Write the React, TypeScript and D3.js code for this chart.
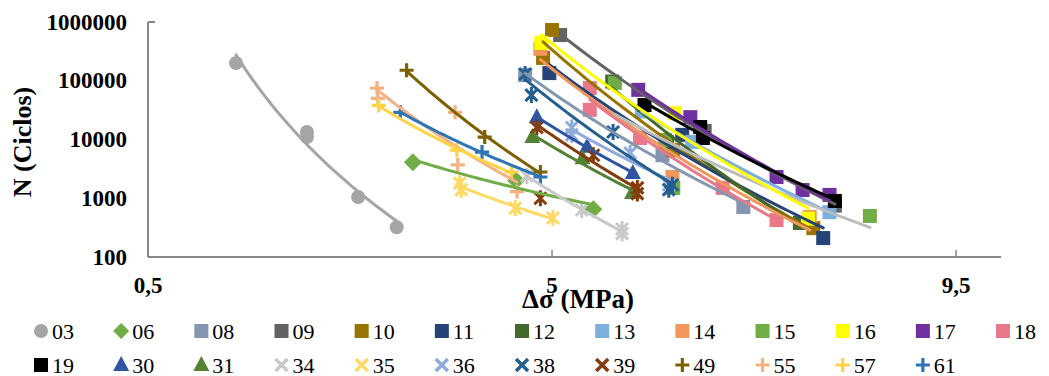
import React from 'react';
import * as d3 from 'd3';

type Pt = [number, number]; // [Δσ (MPa), N (cycles)]

// Specimen series: [stress range, cycles to failure]
const s03: Pt[] = [[1.48, 200000], [2.27, 13400], [2.27, 11000], [2.84, 1050], [3.27, 320]];
const s06: Pt[] = [[3.45, 4100], [4.6, 2000], [5.46, 650]];
const s08: Pt[] = [[4.7, 125000], [6.23, 5400], [7.13, 710]];
const s09: Pt[] = [[5.09, 600000], [6.7, 14000], [8.15, 750]];
const s10: Pt[] = [[5.0, 730000], [4.9, 245000], [6.35, 6600], [7.91, 310]];
const s11: Pt[] = [[4.97, 135000], [6.45, 12000], [8.02, 210]];
const s12: Pt[] = [[5.67, 97000], [6.28, 9000], [7.76, 380]];
const s13: Pt[] = [[6.0, 30000], [6.56, 9100], [8.09, 580]];
const s14: Pt[] = [[4.87, 350000], [6.34, 2300], [7.87, 480]];
const s15: Pt[] = [[5.7, 92000], [6.26, 9800], [6.35, 1500], [8.54, 500]];
const s16: Pt[] = [[4.88, 440000], [6.37, 28000], [7.85, 450]];
const s17: Pt[] = [[5.96, 70000], [6.54, 24000], [7.5, 2300], [7.79, 1380], [8.09, 1140]];
const s18: Pt[] = [[5.42, 75000], [5.42, 32000], [5.98, 10600], [6.9, 1500], [7.5, 425]];
const s19: Pt[] = [[6.03, 38600], [6.65, 16300], [6.68, 10600], [8.15, 900]];
const s30: Pt[] = [[4.83, 24000], [5.39, 7500], [5.9, 2700]];
const s31: Pt[] = [[4.78, 11000], [5.34, 4800], [5.89, 1230]];
const s34: Pt[] = [[4.72, 2400], [5.33, 630], [5.78, 300], [5.78, 250]];
const s35: Pt[] = [[3.97, 1800], [3.99, 1400], [4.59, 680], [5.01, 460]];
const s36: Pt[] = [[5.22, 16000], [5.22, 12000], [5.87, 5900], [6.3, 1700]];
const s38: Pt[] = [[4.7, 130000], [4.77, 57000], [5.68, 13400], [6.34, 1700], [6.3, 1400]];
const s39: Pt[] = [[4.83, 16000], [5.46, 5400], [5.95, 1500], [5.95, 1200]];
const s49: Pt[] = [[3.38, 151000], [4.25, 11000], [4.87, 2800]];
const s55: Pt[] = [[3.05, 75000], [3.06, 50000], [3.92, 29000], [3.95, 3700], [4.61, 1300]];
const s57: Pt[] = [[3.07, 38000], [3.94, 6600], [4.55, 2800]];
const s61: Pt[] = [[3.31, 29000], [4.22, 6100], [4.87, 2300]];

// Specimen 39 result plotted without entering its trendline fit
const s39Outlier: Pt[] = [[4.87, 1000]];

const seriesNames = ['03', '06', '08', '09', '10', '11', '12', '13', '14', '15', '16', '17', '18',
  '19', '30', '31', '34', '35', '36', '38', '39', '49', '55', '57', '61'];

const seriesData: Record<string, Pt[]> = {
  '03': s03, '06': s06, '08': s08, '09': s09, '10': s10, '11': s11, '12': s12, '13': s13,
  '14': s14, '15': s15, '16': s16, '17': s17, '18': s18, '19': s19, '30': s30, '31': s31,
  '34': s34, '35': s35, '36': s36, '38': s38, '39': s39, '49': s49, '55': s55, '57': s57, '61': s61,
};
const extraPoints: Record<string, Pt[]> = { '39': s39Outlier };

const yTicks = [100, 1000, 10000, 100000, 1000000];
const xTicks = [0.5, 5, 9.5];
const xTickLabels = ['0,5', '5', '9,5'];

type Marker = 'circle' | 'diamond' | 'square' | 'triangle' | 'star' | 'plus';
const style: Record<string, { color: string; marker: Marker; trend?: string }> = {
  '03': { color: '#A5A5A5', marker: 'circle' },
  '06': { color: '#70AD47', marker: 'diamond' },
  '08': { color: '#8497B0', marker: 'square' },
  '09': { color: '#636363', marker: 'square' },
  '10': { color: '#997300', marker: 'square' },
  '11': { color: '#264478', marker: 'square' },
  '12': { color: '#43682B', marker: 'square' },
  '13': { color: '#7CAFDD', marker: 'square' },
  '14': { color: '#F1975A', marker: 'square' },
  '15': { color: '#70AD47', marker: 'square', trend: '#BDBDBD' },
  '16': { color: '#FFFF00', marker: 'square' },
  '17': { color: '#7030A0', marker: 'square' },
  '18': { color: '#E8788A', marker: 'square' },
  '19': { color: '#000000', marker: 'square' },
  '30': { color: '#2F55A0', marker: 'triangle' },
  '31': { color: '#548235', marker: 'triangle' },
  '34': { color: '#C9C9C9', marker: 'star' },
  '35': { color: '#FFD966', marker: 'star' },
  '36': { color: '#8FAADC', marker: 'star' },
  '38': { color: '#255E91', marker: 'star' },
  '39': { color: '#843C0C', marker: 'star' },
  '49': { color: '#7F6000', marker: 'plus' },
  '55': { color: '#F4B183', marker: 'plus' },
  '57': { color: '#FFD347', marker: 'plus' },
  '61': { color: '#2E75B6', marker: 'plus' },
};

const FONT = '"Liberation Serif", "Times New Roman", serif';
const W = 1049;
const H = 376;

const x = d3.scaleLinear().domain([0.5, 10]).range([148, 1001]);
const y = d3.scaleLog().domain([100, 1000000]).range([257, 22]);

// Least-squares power trendline N = a·Δσ^b, sampled over the series' range
function powerTrend(pts: Pt[]): Pt[] {
  const lx = pts.map((p) => Math.log(p[0]));
  const ly = pts.map((p) => Math.log(p[1]));
  const mx = d3.mean(lx)!;
  const my = d3.mean(ly)!;
  let sxy = 0;
  let sxx = 0;
  lx.forEach((v, i) => {
    sxy += (v - mx) * (ly[i] - my);
    sxx += (v - mx) * (v - mx);
  });
  const b = sxx > 0 ? sxy / sxx : 0;
  const a = Math.exp(my - b * mx);
  const [x0, x1] = d3.extent(pts, (p) => p[0]) as [number, number];
  return d3.range(0, 41).map((i) => {
    const xv = x0 + ((x1 - x0) * i) / 40;
    return [xv, a * Math.pow(xv, b)];
  });
}

const trendLine = d3.line<Pt>().x((d) => x(d[0])).y((d) => y(d[1])).curve(d3.curveMonotoneX);

function MarkerShape({ kind, color, cx, cy, legend }: { kind: Marker; color: string; cx: number; cy: number; legend?: boolean }) {
  const t = `translate(${cx},${cy})`;
  switch (kind) {
    case 'circle':
      return <circle cx={cx} cy={cy} r={7} fill={color} />;
    case 'diamond':
      return <path transform={t} d={legend ? 'M0,-8L8,0L0,8L-8,0Z' : 'M0,-9L9,0L0,9L-9,0Z'} fill={color} />;
    case 'square':
      return <rect x={cx - 7} y={cy - 7} width={14} height={14} fill={color} />;
    case 'triangle':
      return <path transform={t} d="M0,-9L8,6L-8,6Z" fill={color} />;
    case 'star':
      return legend ? (
        <path transform={t} d="M-6,-6L6,6M6,-6L-6,6" stroke={color} strokeWidth={3.5} fill="none" />
      ) : (
        <path transform={t} d="M-6,-6L6,6M6,-6L-6,6M0,-8L0,8" stroke={color} strokeWidth={3} fill="none" />
      );
    case 'plus':
      return <path transform={t} d="M-7,0L7,0M0,-7L0,7" stroke={color} strokeWidth={3.2} fill="none" />;
  }
  return null;
}

export default function App() {
  const axisColor = '#868686';
  const legendRows = [seriesNames.slice(0, 13), seriesNames.slice(13)];
  const legendY = [331, 365];
  const legendX = (i: number) => 41 + i * 80.17;

  return (
    <svg width={W} height={H} style={{ position: 'absolute', left: 0, top: 0, background: '#fff' }} fontFamily={FONT}>
      <rect width={W} height={H} fill="#fff" />

      {/* axes */}
      <line x1={x(0.5)} x2={x(0.5)} y1={y(1000000)} y2={y(100)} stroke={axisColor} strokeWidth={2} />
      <line x1={x(0.5)} x2={x(0.5) + 7} y1={y(1000000)} y2={y(1000000)} stroke={axisColor} strokeWidth={2} />
      <line x1={x(0.5)} x2={x(10)} y1={y(100)} y2={y(100)} stroke={axisColor} strokeWidth={2} />
      {xTicks.slice(1).map((t) => (
        <line key={t} x1={x(t)} x2={x(t)} y1={y(100)} y2={y(100) - 7} stroke={axisColor} strokeWidth={1.5} />
      ))}

      {/* tick labels */}
      {yTicks.map((t) => (
        <text key={t} x={127} y={y(t)} textAnchor="end" dominantBaseline="central" fontSize={23} fontWeight="bold">
          {String(t)}
        </text>
      ))}
      {xTicks.map((t, i) => (
        <text key={t} x={x(t)} y={285} textAnchor="middle" dominantBaseline="central" fontSize={23} fontWeight="bold">
          {xTickLabels[i]}
        </text>
      ))}

      {/* axis titles */}
      <text x={578} y={299} textAnchor="middle" dominantBaseline="central" fontSize={27} fontWeight="bold">
        Δσ (MPa)
      </text>
      <text transform="translate(22,142) rotate(-90)" textAnchor="middle" dominantBaseline="central" fontSize={26} fontWeight="bold">
        N (Ciclos)
      </text>

      {/* markers */}
      {seriesNames.map((name) => (
        <g key={'m' + name}>
          {seriesData[name].concat(extraPoints[name] || []).map((p, i) => (
            <MarkerShape key={i} kind={style[name].marker} color={style[name].color} cx={x(p[0])} cy={y(p[1])} />
          ))}
        </g>
      ))}

      {/* power trendlines */}
      {seriesNames.map((name) => (
        <path
          key={'t' + name}
          d={trendLine(powerTrend(seriesData[name])) || ''}
          fill="none"
          stroke={style[name].trend || style[name].color}
          strokeWidth={3}
          strokeLinecap="round"
        />
      ))}

      {/* legend */}
      {legendRows.map((row, r) =>
        row.map((name, i) => (
          <g key={'l' + name}>
            <MarkerShape kind={style[name].marker} color={style[name].color} cx={legendX(i)} cy={legendY[r]} legend />
            <text x={legendX(i) + 11} y={legendY[r]} dominantBaseline="central" fontSize={22}>
              {name}
            </text>
          </g>
        ))
      )}
    </svg>
  );
}
